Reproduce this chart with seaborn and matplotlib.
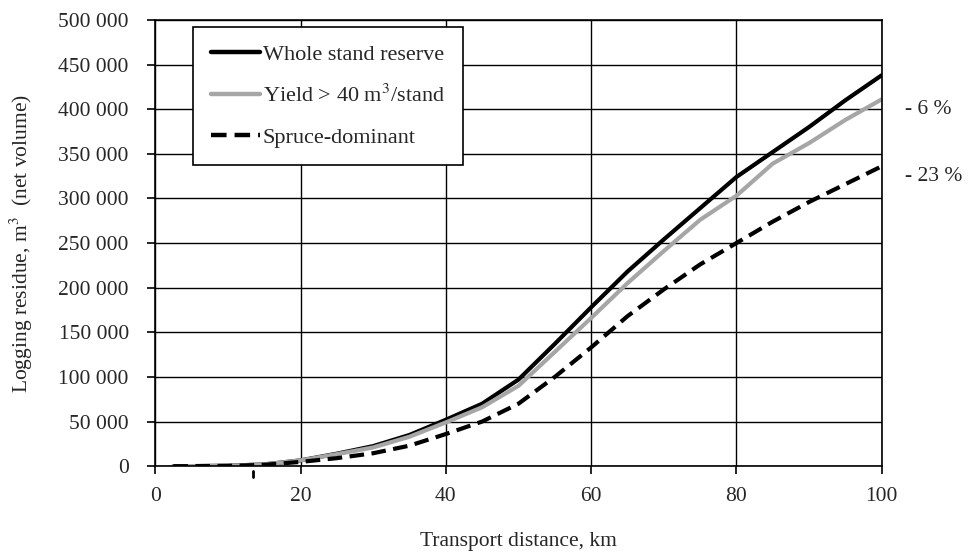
import numpy as np
import pandas as pd
import seaborn as sns
import matplotlib.pyplot as plt
from matplotlib.ticker import FuncFormatter

# transport distance, km
distance = [2.5, 5, 10, 15, 20, 25, 30, 35, 40, 45, 50, 55, 60, 65, 70, 75, 80, 85, 90, 95, 100]

# logging residue, m3 (net volume)
whole_stand = [0, 100, 500, 2000, 6500, 14000, 22500, 35000, 52000, 70000, 97000, 137000,
               178000, 218000, 254000, 289000, 324000, 352000, 380000, 410000, 438000]
yield_40 = [0, 100, 500, 2000, 6500, 13500, 21000, 33000, 49000, 66000, 90000, 128000,
            166000, 205000, 241000, 276000, 303000, 339000, 362000, 388000, 411000]
spruce = [0, 50, 300, 1500, 4800, 9000, 14500, 23000, 36000, 50000, 70000, 100000,
          133000, 168000, 198000, 226000, 250000, 274000, 296000, 316000, 336000]

series_names = ["Whole stand reserve", "Yield > 40 m$^3$/stand", "Spruce-dominant"]
end_labels = ["", "- 6 %", "- 23 %"]
marker_km = 13.5

df = pd.DataFrame({
    "distance": distance * 3,
    "residue": whole_stand + yield_40 + spruce,
    "series": np.repeat(series_names, len(distance)),
})

sns.set_style("white")
plt.rcParams["font.family"] = ["Liberation Serif", "DejaVu Serif"]
plt.rcParams["mathtext.fontset"] = "stix"

fig = plt.figure(figsize=(9.7, 5.53), dpi=100)
ax = fig.add_axes([0.16, 0.157, 0.749, 0.807])

sns.lineplot(
    data=df, x="distance", y="residue", hue="series", style="series",
    hue_order=series_names, style_order=series_names,
    palette=["black", "#a6a6a6", "black"],
    dashes=[(None, None), (None, None), (3.5, 1.8)],
    linewidth=3, ax=ax,
)

ax.set_xlim(0, 100)
ax.set_ylim(0, 500000)
ax.set_xticks(range(0, 101, 20))
ax.set_yticks(range(0, 500001, 50000))
ax.yaxis.set_major_formatter(FuncFormatter(lambda v, p: f"{int(v):,}".replace(",", " ")))
ax.grid(True, color="black", linewidth=1.0)
ax.set_axisbelow(True)
for s in ax.spines.values():
    s.set_color("black")
    s.set_linewidth(1.2)
ax.tick_params(axis="both", direction="out", length=6, width=1.2, color="black",
               labelsize=15.5, bottom=True, left=True)
ax.tick_params(axis="y", pad=13)
ax.tick_params(axis="x", pad=9)

ax.set_xlabel("Transport distance, km", fontsize=15.5, labelpad=19)
ax.set_ylabel("Logging residue, m$^3$  (net volume)", fontsize=15.5, labelpad=17)

# relative change labels at the line ends
last = [whole_stand[-1], yield_40[-1], spruce[-1]]
for val, lab in zip(last, end_labels):
    if lab:
        ax.annotate(lab, xy=(100, val), xytext=(17, -7), textcoords="offset points",
                    fontsize=15.5, va="center", ha="left", annotation_clip=False)

# small mark below the x axis
ax.plot([marker_km, marker_km], [-0.01, -0.025], transform=ax.get_xaxis_transform(),
        color="black", linewidth=2, clip_on=False)

leg = ax.legend(loc="upper left", bbox_to_anchor=(0.052, 0.985), fontsize=16,
                frameon=True, fancybox=False, edgecolor="black", framealpha=1,
                handlelength=2.2, handletextpad=0.15, labelspacing=0.9,
                borderpad=0.8, borderaxespad=0)
leg.get_frame().set_linewidth(1.2)
for h in leg.get_lines():
    h.set_linewidth(3.2)

plt.savefig("out.png", dpi=100)
